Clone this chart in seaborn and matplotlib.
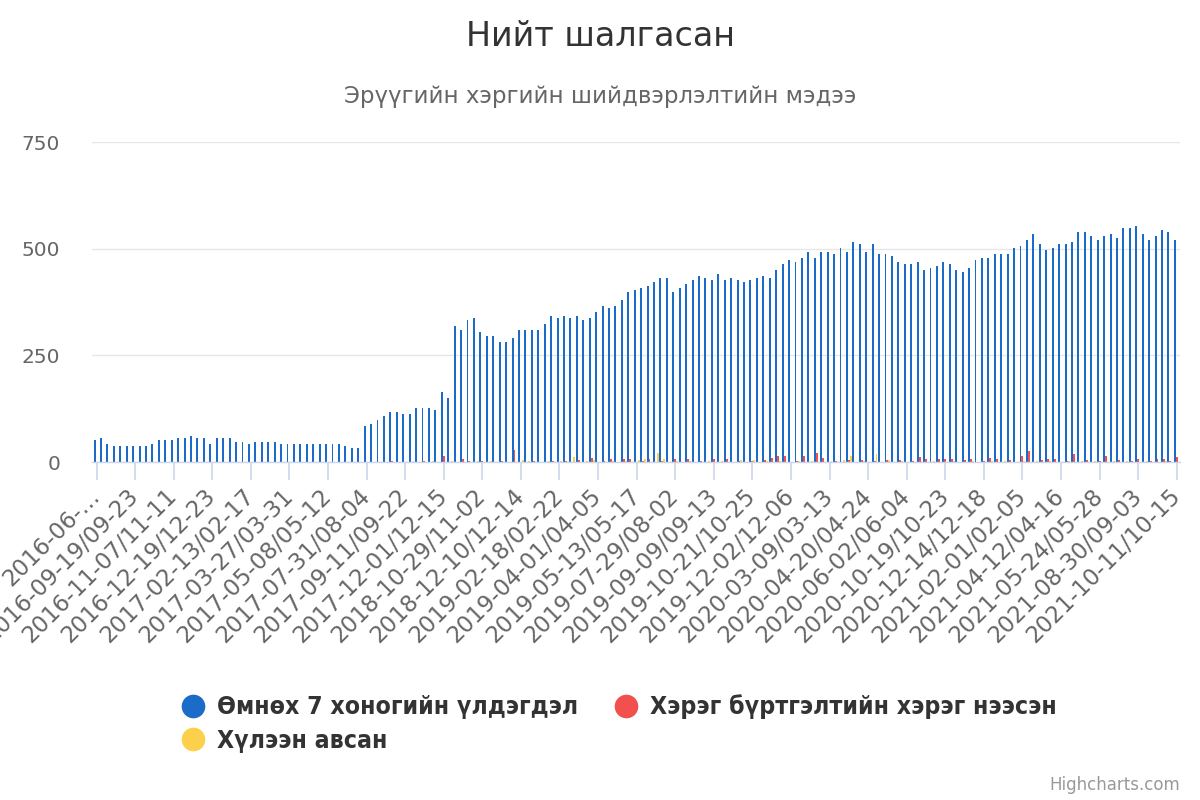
import numpy as np
import pandas as pd
import matplotlib
matplotlib.use("Agg")
import matplotlib.pyplot as plt
from matplotlib.lines import Line2D
import seaborn as sns

# ---------------- data ----------------
series_names = ["Өмнөх 7 хоногийн үлдэгдэл", "Хэрэг бүртгэлтийн хэрэг нээсэн", "Хүлээн авсан"]
series_colors = ["#1a6cc8", "#f24f4f", "#fcd04b"]

tick_labels = [
    "2016-06-…", "2016-09-19/09-23", "2016-11-07/11-11", "2016-12-19/12-23",
    "2017-02-13/02-17", "2017-03-27/03-31", "2017-05-08/05-12", "2017-07-31/08-04",
    "2017-09-11/09-22", "2017-12-01/12-15", "2018-10-29/11-02", "2018-12-10/12-14",
    "2019-02-18/02-22", "2019-04-01/04-05", "2019-05-13/05-17", "2019-07-29/08-02",
    "2019-09-09/09-13", "2019-10-21/10-25", "2019-12-02/12-06", "2020-03-09/03-13",
    "2020-04-20/04-24", "2020-06-02/06-04", "2020-10-19/10-23", "2020-12-14/12-18",
    "2021-02-01/02-05", "2021-04-12/04-16", "2021-05-24/05-28", "2021-08-30/09-03",
    "2021-10-11/10-15",
]
tick_every = 6

remaining = [
    52, 56, 42, 38, 38, 38, 38, 38, 38, 42,
    52, 52, 52, 56, 56, 61, 56, 56, 42, 56,
    56, 56, 47, 47, 42, 47, 47, 47, 47, 42,
    42, 42, 42, 42, 42, 42, 42, 42, 42, 38,
    33, 33, 84, 89, 98, 108, 117, 117, 112, 112,
    126, 126, 126, 122, 164, 150, 319, 309, 333, 337,
    305, 295, 295, 281, 281, 291, 309, 309, 309, 309,
    323, 342, 337, 342, 337, 342, 333, 337, 351, 366,
    361, 366, 380, 398, 403, 408, 413, 422, 431, 431,
    398, 408, 417, 427, 436, 431, 427, 441, 427, 431,
    427, 422, 427, 431, 436, 431, 450, 464, 473, 469,
    478, 492, 478, 492, 492, 488, 502, 492, 516, 511,
    492, 511, 488, 488, 483, 469, 464, 464, 469, 450,
    455, 459, 469, 464, 450, 445, 455, 473, 478, 478,
    488, 488, 488, 502, 506, 520, 534, 511, 497, 502,
    511, 511, 516, 539, 539, 530, 520, 530, 534, 525,
    548, 548, 553, 534, 520, 530, 544, 539, 520,
]

opened = [
    0, 0, 0, 0, 0, 0, 0, 0, 0, 0,
    0, 0, 0, 0, 0, 0, 0, 0, 0, 0,
    0, 0, 0, 0, 0, 0, 0, 0, 0, 0,
    0, 0, 0, 0, 0, 0, 0, 0, 0, 0,
    0, 0, 0, 0, 0, 0, 2, 0, 0, 0,
    0, 2, 0, 0, 15, 0, 0, 8, 2, 0,
    3, 0, 0, 2, 0, 28, 0, 0, 3, 0,
    0, 2, 0, 3, 0, 4, 0, 10, 0, 3,
    8, 0, 7, 6, 0, 3, 8, 0, 3, 0,
    8, 0, 7, 0, 3, 0, 7, 0, 8, 0,
    3, 0, 2, 0, 4, 10, 13, 13, 0, 3,
    15, 0, 20, 10, 0, 3, 0, 4, 0, 5,
    0, 3, 0, 5, 0, 4, 0, 3, 11, 8,
    0, 7, 7, 7, 0, 5, 7, 0, 3, 10,
    8, 0, 4, 0, 13, 25, 0, 4, 8, 8,
    0, 3, 18, 0, 4, 0, 3, 13, 0, 4,
    0, 3, 7, 0, 3, 7, 8, 3, 11,
]

received = [
    0, 0, 0, 0, 0, 0, 0, 0, 0, 0,
    0, 0, 0, 0, 0, 0, 0, 0, 0, 0,
    0, 0, 0, 0, 0, 0, 0, 0, 0, 0,
    0, 0, 0, 0, 0, 0, 0, 0, 0, 0,
    0, 0, 0, 0, 0, 0, 0, 0, 0, 2,
    0, 0, 3, 0, 0, 2, 0, 0, 0, 3,
    0, 2, 0, 0, 0, 0, 4, 2, 0, 0,
    3, 0, 2, 0, 11, 0, 3, 4, 0, 0,
    2, 0, 3, 0, 4, 6, 0, 22, 8, 0,
    2, 0, 3, 0, 0, 2, 0, 3, 0, 0,
    5, 0, 5, 0, 2, 0, 3, 0, 0, 2,
    0, 3, 0, 0, 3, 0, 5, 13, 0, 2,
    0, 18, 0, 4, 0, 2, 0, 0, 3, 0,
    2, 0, 0, 3, 0, 0, 2, 0, 0, 3,
    0, 2, 0, 0, 3, 0, 3, 0, 2, 0,
    0, 2, 0, 3, 0, 2, 0, 0, 3, 0,
    2, 0, 0, 3, 0, 0, 2, 0, 0,
]

n = len(remaining)
positions = list(range(n))

df = pd.DataFrame({
    "pos": positions * 3,
    "value": remaining + opened + received,
    "series": [series_names[0]] * n + [series_names[1]] * n + [series_names[2]] * n,
})

# ---------------- style ----------------
sns.set_theme(style="white")
plt.rcParams["font.family"] = ["DejaVu Sans"]

fig = plt.figure(figsize=(12, 8), dpi=100)
ax = fig.add_axes([92 / 1200, 1 - 462 / 800, (1180 - 92) / 1200, (462 - 142) / 800])

sns.barplot(
    data=df, x="pos", y="value", hue="series",
    hue_order=series_names, palette=series_colors,
    order=positions, width=0.9, dodge=True, linewidth=0,
    errorbar=None, legend=False, ax=ax, saturation=1,
)

ax.set_xlim(-0.7, n - 0.5)
ax.set_ylim(0, 750)
ax.set_yticks([0, 250, 500, 750])
ax.set_yticklabels(["0", "250", "500", "750"])
ax.yaxis.grid(True, color="#e6e6e6", linewidth=1)
ax.set_axisbelow(True)
ax.set_xlabel("")
ax.set_ylabel("")

tick_pos = positions[::tick_every]
ax.set_xticks(tick_pos)
ax.set_xticklabels(tick_labels, rotation=45, ha="right", va="center",
                   rotation_mode="anchor")
ax.tick_params(axis="x", length=13, width=1.2, color="#ccd6eb", pad=9,
               labelsize=16.5, labelcolor="#666666", bottom=True)
ax.tick_params(axis="y", length=0, pad=23, labelsize=14.5, labelcolor="#666666")

for side in ["top", "right", "left"]:
    ax.spines[side].set_visible(False)
ax.spines["bottom"].set_color("#ccd6eb")
ax.spines["bottom"].set_linewidth(1)

# ---------------- texts ----------------
fig.text(0.5, 1 - 36 / 800, "Нийт шалгасан", ha="center", va="center",
         fontsize=24, color="#333333")
fig.text(0.5, 1 - 97 / 800, "Эрүүгийн хэргийн шийдвэрлэлтийн мэдээ", ha="center",
         va="center", fontsize=16.5, color="#666666")
fig.text(1180 / 1200, 1 - 785 / 800, "Highcharts.com", ha="right", va="center",
         fontsize=12, color="#999999")

# ---------------- legend ----------------
handles = [Line2D([], [], marker="o", ls="", color=c, markersize=16) for c in series_colors]
order = [0, 2, 1]
leg = fig.legend(
    [handles[i] for i in order], [series_names[i] for i in order],
    ncol=2, loc="upper left", bbox_to_anchor=(168 / 1200, 1 - 682 / 800),
    frameon=False, handlelength=1.0, handletextpad=0.5, columnspacing=1.4,
    labelspacing=0.4, borderpad=0,
    prop={"weight": "bold", "size": 17.8, "stretch": "condensed"},
)
for t in leg.get_texts():
    t.set_color("#333333")

fig.savefig("out.png", dpi=100)
